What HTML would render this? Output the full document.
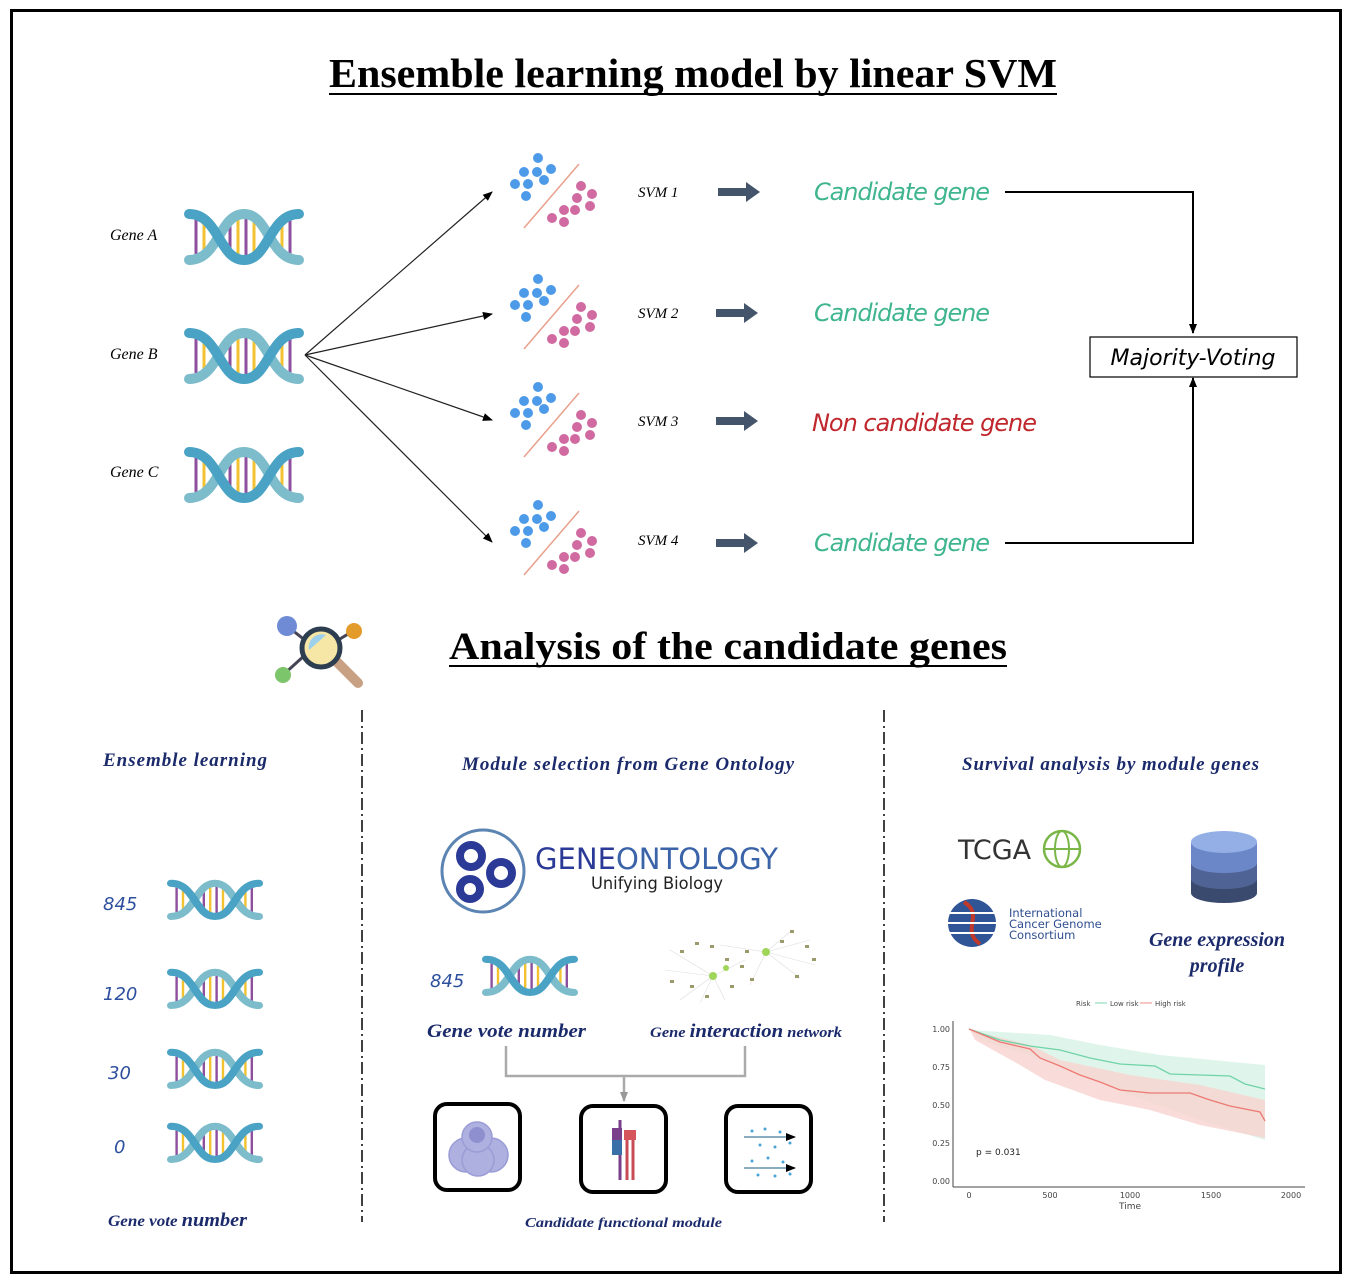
<!DOCTYPE html>
<html><head><meta charset="utf-8"><style>
html,body{margin:0;padding:0;background:#fff;}
svg{display:block;}
.ser{font-family:"Liberation Serif",serif;}
.san{font-family:"DejaVu Sans","Liberation Sans",sans-serif;}
</style></head><body>
<svg width="1354" height="1284" viewBox="0 0 1354 1284" xmlns="http://www.w3.org/2000/svg">
<defs>
<g id="dna">
 <g stroke-width="3">
  <line x1="12" y1="12" x2="12" y2="46" stroke="#8e4f9e"/><line x1="20" y1="12" x2="20" y2="46" stroke="#f2c230"/>
  <line x1="46" y1="10" x2="46" y2="48" stroke="#8e4f9e"/><line x1="54" y1="10" x2="54" y2="48" stroke="#f2c230"/>
  <line x1="62" y1="10" x2="62" y2="48" stroke="#8e4f9e"/><line x1="70" y1="10" x2="70" y2="48" stroke="#f2c230"/>
  <line x1="98" y1="12" x2="98" y2="46" stroke="#f2c230"/><line x1="106" y1="12" x2="106" y2="46" stroke="#8e4f9e"/>
 </g>
 <path d="M5,52 C35,52 35,6 60,6 C85,6 85,52 115,52" fill="none" stroke="#7dbccb" stroke-width="10" stroke-linecap="round"/>
 <path d="M5,6 C35,6 35,52 60,52 C85,52 85,6 115,6" fill="none" stroke="#4aa3c4" stroke-width="10" stroke-linecap="round"/>
</g>
<g id="sc">
 <line x1="20" y1="76" x2="75" y2="12" stroke="#e9a08c" stroke-width="1.5"/>
 <g fill="#4d9be8"><circle cx="34" cy="6" r="5"/><circle cx="20" cy="20" r="5"/><circle cx="33" cy="20" r="5"/><circle cx="47" cy="17" r="5"/><circle cx="11" cy="32" r="5"/><circle cx="24" cy="32" r="5"/><circle cx="40" cy="28" r="5"/><circle cx="22" cy="44" r="5"/></g>
 <g fill="#d06aa0"><circle cx="77" cy="34" r="5"/><circle cx="88" cy="42" r="5"/><circle cx="73" cy="46" r="5"/><circle cx="86" cy="54" r="5"/><circle cx="60" cy="58" r="5"/><circle cx="71" cy="58" r="5"/><circle cx="48" cy="66" r="5"/><circle cx="60" cy="70" r="5"/></g>
</g>
<g id="barr"><polygon points="0,-4 28,-4 28,-10 42,0 28,10 28,4 0,4" fill="#44546a"/></g>
<marker id="ah" markerWidth="10" markerHeight="8" refX="9" refY="4" orient="auto" markerUnits="userSpaceOnUse"><path d="M0,0 L10,4 L0,8 z" fill="#000"/></marker>
<marker id="ahg" markerWidth="10" markerHeight="8" refX="9" refY="4" orient="auto" markerUnits="userSpaceOnUse"><path d="M0,0 L10,4 L0,8 z" fill="#999"/></marker>
</defs>
<rect x="11.5" y="10.5" width="1329" height="1262" fill="none" stroke="#000" stroke-width="3"/>
<text x="329" y="87" textLength="728" lengthAdjust="spacingAndGlyphs" class="ser" font-size="41" font-weight="bold">Ensemble learning model by linear SVM</text>
<line x1="329" y1="94" x2="1057" y2="94" stroke="#000" stroke-width="2"/>

<g class="ser" font-style="italic" font-size="16">
<text x="110" y="240">Gene A</text><text x="110" y="359">Gene B</text><text x="110" y="477">Gene C</text>
</g>
<use href="#dna" transform="translate(184,208)"/>
<use href="#dna" transform="translate(184,327)"/>
<use href="#dna" transform="translate(184,446)"/>

<g stroke="#222" stroke-width="1.2" marker-end="url(#ah)">
<line x1="305" y1="355" x2="492" y2="192"/><line x1="305" y1="355" x2="492" y2="314"/>
<line x1="305" y1="355" x2="492" y2="420"/><line x1="305" y1="355" x2="492" y2="542"/>
</g>
<use href="#sc" transform="translate(504,152)"/><use href="#sc" transform="translate(504,273)"/>
<use href="#sc" transform="translate(504,381)"/><use href="#sc" transform="translate(504,499)"/>
<g class="ser" font-style="italic" font-size="15">
<text x="638" y="197">SVM 1</text><text x="638" y="318">SVM 2</text><text x="638" y="426">SVM 3</text><text x="638" y="545">SVM 4</text>
</g>
<use href="#barr" transform="translate(718,192)"/><use href="#barr" transform="translate(716,313)"/>
<use href="#barr" transform="translate(716,421)"/><use href="#barr" transform="translate(716,543)"/>
<g class="san" font-style="italic" font-size="24" fill="#3fb58f" lengthAdjust="spacingAndGlyphs">
<text x="814" y="200" textLength="176">Candidate gene</text><text x="814" y="321" textLength="176">Candidate gene</text>
<text x="812" y="431" textLength="225" fill="#c0272d">Non candidate gene</text><text x="814" y="551" textLength="176">Candidate gene</text>
</g>
<g fill="none" stroke="#000" stroke-width="2">
<polyline points="1005,192 1193,192 1193,333" marker-end="url(#ah)"/>
<polyline points="1005,543 1193,543 1193,378" marker-end="url(#ah)"/>
</g>
<rect x="1090" y="337" width="207" height="40" fill="#fff" stroke="#000" stroke-width="1.2"/>
<text x="1193" y="365" text-anchor="middle" class="san" font-style="italic" font-size="22">Majority-Voting</text>

<g>
<line x1="287" y1="626" x2="320" y2="652" stroke="#445" stroke-width="3"/>
<line x1="283" y1="675" x2="305" y2="655" stroke="#445" stroke-width="3"/>
<line x1="353" y1="631" x2="330" y2="645" stroke="#445" stroke-width="3"/>
<circle cx="287" cy="626" r="10" fill="#6f8bd6"/><circle cx="354" cy="631" r="8" fill="#e39b2b"/><circle cx="283" cy="675" r="8" fill="#7cc56b"/>
<line x1="335" y1="660" x2="358" y2="683" stroke="#c8a184" stroke-width="10" stroke-linecap="round"/>
<circle cx="321" cy="648" r="19" fill="#f6e7a6" stroke="#2d3e50" stroke-width="5"/>
<path d="M309,650 A13,13 0 0 1 326,635" fill="#9cd0ec"/>
</g>
<text x="449" y="659" textLength="558" lengthAdjust="spacingAndGlyphs" class="ser" font-size="39" font-weight="bold">Analysis of the candidate genes</text>
<line x1="449" y1="666" x2="1007" y2="666" stroke="#000" stroke-width="2"/>

<g stroke="#000" stroke-width="1.5" stroke-dasharray="12,4,2,4">
<line x1="362" y1="710" x2="362" y2="1222"/><line x1="884" y1="710" x2="884" y2="1222"/>
</g>
<g class="ser" font-style="italic" font-weight="bold" font-size="19" fill="#1b2a6b" lengthAdjust="spacingAndGlyphs">
<text x="103" y="766" textLength="164">Ensemble learning</text>
<text x="462" y="770" textLength="332">Module selection from Gene Ontology</text>
<text x="962" y="770" textLength="297">Survival analysis by module genes</text>
</g>
<g class="san" font-style="italic" font-size="18" fill="#2d4f9e">
<text x="103" y="910">845</text><text x="103" y="1000">120</text><text x="108" y="1079">30</text><text x="114" y="1153">0</text>
<text x="430" y="987">845</text>
</g>
<use href="#dna" transform="translate(167,879) scale(0.8,0.72)"/>
<use href="#dna" transform="translate(167,968) scale(0.8,0.72)"/>
<use href="#dna" transform="translate(167,1048) scale(0.8,0.72)"/>
<use href="#dna" transform="translate(167,1122) scale(0.8,0.72)"/>
<use href="#dna" transform="translate(482,955) scale(0.8,0.72)"/>
<text x="108" y="1226" textLength="139" lengthAdjust="spacingAndGlyphs" class="ser" font-style="italic" font-weight="bold" font-size="16" fill="#1b2a6b">Gene vote <tspan font-size="19">number</tspan></text>

<circle cx="483" cy="871" r="41" fill="#fff" stroke="#5b84b3" stroke-width="3"/>
<g fill="none" stroke="#2b3a97" stroke-width="8">
<circle cx="471" cy="856" r="11"/><circle cx="501" cy="873" r="11"/><circle cx="470" cy="889" r="10"/>
</g>
<text x="535" y="869" textLength="243" lengthAdjust="spacingAndGlyphs" class="san" font-size="29" fill="#2b3a97">GENE<tspan fill="#3b63a8">ONTOLOGY</tspan></text>
<text x="591" y="889" textLength="132" lengthAdjust="spacingAndGlyphs" class="san" font-size="17" fill="#222">Unifying Biology</text>

<g stroke="#ddd" stroke-width="0.6">
<line x1="713" y1="976" x2="670" y2="950"/><line x1="713" y1="976" x2="680" y2="1000"/><line x1="713" y1="976" x2="700" y2="1003"/><line x1="713" y1="976" x2="745" y2="960"/><line x1="713" y1="976" x2="665" y2="970"/><line x1="713" y1="976" x2="725" y2="1000"/>
<line x1="766" y1="952" x2="720" y2="945"/><line x1="766" y1="952" x2="810" y2="940"/><line x1="766" y1="952" x2="815" y2="965"/><line x1="766" y1="952" x2="790" y2="932"/><line x1="766" y1="952" x2="750" y2="985"/><line x1="766" y1="952" x2="800" y2="978"/>
</g>
<g fill="#9a9a6a">
<rect x="680" y="950" width="4" height="3"/><rect x="695" y="942" width="4" height="3"/><rect x="710" y="945" width="4" height="3"/><rect x="725" y="958" width="4" height="3"/><rect x="740" y="965" width="4" height="3"/><rect x="690" y="985" width="4" height="3"/><rect x="705" y="995" width="4" height="3"/><rect x="730" y="985" width="4" height="3"/><rect x="750" y="978" width="4" height="3"/><rect x="790" y="930" width="4" height="3"/><rect x="805" y="945" width="4" height="3"/><rect x="812" y="958" width="4" height="3"/><rect x="795" y="975" width="4" height="3"/><rect x="780" y="940" width="4" height="3"/><rect x="745" y="950" width="4" height="3"/><rect x="670" y="980" width="4" height="3"/>
</g>
<circle cx="713" cy="976" r="4" fill="#9fd65a"/><circle cx="766" cy="952" r="4" fill="#9fd65a"/><circle cx="726" cy="968" r="3" fill="#9fd65a"/>
<text x="427" y="1037" textLength="159" lengthAdjust="spacingAndGlyphs" class="ser" font-style="italic" font-weight="bold" font-size="19" fill="#1b2a6b">Gene vote number</text>
<text x="650" y="1037" textLength="192" lengthAdjust="spacingAndGlyphs" class="ser" font-style="italic" font-weight="bold" font-size="15" fill="#1b2a6b">Gene <tspan font-size="19">interaction</tspan> network</text>
<g fill="none" stroke="#aaa" stroke-width="2.5">
<polyline points="506,1046 506,1076 745,1076 745,1046"/>
<line x1="624" y1="1076" x2="624" y2="1101" marker-end="url(#ahg)"/>
</g>
<g fill="#fff" stroke="#000" stroke-width="4">
<rect x="435" y="1104" width="85" height="86" rx="12"/><rect x="581" y="1106" width="85" height="86" rx="12"/><rect x="726" y="1106" width="85" height="86" rx="12"/>
</g>
<g fill="#aeb0e0" stroke="#9a9cd6" stroke-width="1.5">
<circle cx="466" cy="1155" r="17"/><circle cx="491" cy="1155" r="17"/><circle cx="478" cy="1160" r="16"/><circle cx="477" cy="1137" r="15"/>
</g>
<circle cx="477" cy="1135" r="8" fill="#8e8fcf"/>
<g stroke-width="3"><line x1="620" y1="1120" x2="620" y2="1180" stroke="#7a3f8a"/><line x1="627" y1="1130" x2="627" y2="1180" stroke="#c84c55"/><line x1="633" y1="1130" x2="633" y2="1180" stroke="#c84c55"/></g>
<rect x="612" y="1130" width="10" height="25" fill="#3b6fa8"/><rect x="612" y="1128" width="10" height="12" fill="#7a3f8a"/><rect x="624" y="1130" width="12" height="10" fill="#d6555d"/>
<g stroke="#447a9a" stroke-width="1.3"><line x1="744" y1="1137" x2="795" y2="1137" marker-end="url(#ah)"/><line x1="744" y1="1168" x2="795" y2="1168" marker-end="url(#ah)"/></g>
<g fill="#4aa3d4"><circle cx="752" cy="1131" r="1.5"/><circle cx="765" cy="1129" r="1.5"/><circle cx="780" cy="1132" r="1.5"/><circle cx="760" cy="1145" r="1.5"/><circle cx="775" cy="1147" r="1.5"/><circle cx="790" cy="1143" r="1.5"/><circle cx="752" cy="1161" r="1.5"/><circle cx="768" cy="1158" r="1.5"/><circle cx="783" cy="1162" r="1.5"/><circle cx="758" cy="1175" r="1.5"/><circle cx="775" cy="1176" r="1.5"/><circle cx="790" cy="1174" r="1.5"/></g>
<text x="525" y="1227" textLength="197" lengthAdjust="spacingAndGlyphs" class="ser" font-style="italic" font-weight="bold" font-size="14" fill="#1b2a6b">Candidate functional module</text>

<text x="958" y="859" class="san" font-size="27" fill="#333">TCGA</text>
<circle cx="1062" cy="849" r="18" fill="none" stroke="#7ab648" stroke-width="2.5"/>
<line x1="1044" y1="849" x2="1080" y2="849" stroke="#7ab648" stroke-width="2"/><ellipse cx="1062" cy="849" rx="7" ry="18" fill="none" stroke="#7ab648" stroke-width="2"/>
<circle cx="972" cy="923" r="24" fill="#2f5597"/><path d="M964,902 C985,915 960,930 980,944" stroke="#c0392b" stroke-width="4" fill="none"/>
<g fill="#fff"><rect x="948" y="912" width="48" height="2"/><rect x="948" y="922" width="48" height="2"/><rect x="948" y="932" width="48" height="2"/></g>
<g class="san" font-size="11.5" fill="#2f4f8f"><text x="1009" y="917">International</text><text x="1009" y="928">Cancer Genome</text><text x="1009" y="939">Consortium</text></g>
<g>
<rect x="1191" y="843" width="66" height="50" fill="#3a4a6e"/><ellipse cx="1224" cy="893" rx="33" ry="10" fill="#3a4a6e"/>
<rect x="1191" y="843" width="66" height="36" fill="#4f6495"/><ellipse cx="1224" cy="879" rx="33" ry="10" fill="#4f6495"/>
<rect x="1191" y="843" width="66" height="20" fill="#6c87c7"/><ellipse cx="1224" cy="863" rx="33" ry="10" fill="#6c87c7"/>
<ellipse cx="1224" cy="842" rx="33" ry="11" fill="#94aee6"/>
</g>
<g class="ser" font-style="italic" font-weight="bold" font-size="20" fill="#1b2a6b" text-anchor="middle">
<text x="1217" y="946">Gene expression</text><text x="1217" y="972">profile</text></g>

<g class="san" font-size="7" fill="#444"><text x="1076" y="1006">Risk</text><text x="1110" y="1006">Low risk</text><text x="1155" y="1006">High risk</text></g>
<line x1="1095" y1="1003" x2="1107" y2="1003" stroke="#7fd4b0"/><line x1="1140" y1="1003" x2="1152" y2="1003" stroke="#ef8b86"/>
<path d="M970,1030 L1050,1035 L1100,1045 L1160,1055 L1265,1065 L1265,1140 L1200,1120 L1130,1095 L1060,1065 L980,1040 Z" fill="#d7f3e6" opacity="0.8"/>
<path d="M970,1030 L1030,1045 L1060,1060 L1130,1075 L1200,1085 L1265,1100 L1265,1138 L1200,1125 L1150,1110 L1100,1100 L1045,1080 L1020,1065 L975,1040 Z" fill="#f8d3d0" opacity="0.8"/>
<polyline points="969,1029 1000,1040 1030,1046 1060,1050 1090,1058 1120,1064 1155,1066 1170,1074 1230,1076 1245,1084 1265,1089" fill="none" stroke="#6fd3a7" stroke-width="1.3"/>
<polyline points="969,1029 1000,1042 1030,1049 1040,1058 1060,1066 1080,1075 1100,1082 1120,1090 1150,1093 1190,1093 1210,1100 1230,1106 1260,1112 1265,1121" fill="none" stroke="#ec7a73" stroke-width="1.3"/>
<g stroke="#444" stroke-width="1"><line x1="953" y1="1021" x2="953" y2="1187"/><line x1="953" y1="1187" x2="1305" y2="1187"/></g>
<g class="san" font-size="8" fill="#444" text-anchor="end"><text x="950" y="1032">1.00</text><text x="950" y="1070">0.75</text><text x="950" y="1108">0.50</text><text x="950" y="1146">0.25</text><text x="950" y="1184">0.00</text></g>
<g class="san" font-size="8" fill="#444" text-anchor="middle"><text x="969" y="1198">0</text><text x="1050" y="1198">500</text><text x="1130" y="1198">1000</text><text x="1211" y="1198">1500</text><text x="1291" y="1198">2000</text><text x="1130" y="1209" font-size="9">Time</text></g>
<text x="976" y="1155" class="san" font-size="9" fill="#222">p = 0.031</text>
</svg>
</body></html>
